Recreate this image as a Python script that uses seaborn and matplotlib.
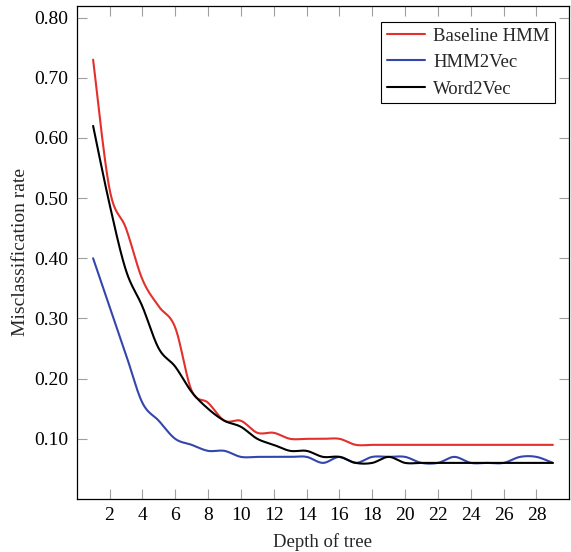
import numpy as np
import pandas as pd
import matplotlib
matplotlib.use("Agg")
import matplotlib.pyplot as plt
import seaborn as sns

depth = list(range(1, 30))
baseline_hmm = [0.73, 0.515, 0.45, 0.365, 0.32, 0.285, 0.18, 0.16, 0.13, 0.13,
                0.11, 0.11, 0.10, 0.10, 0.10, 0.10, 0.09, 0.09, 0.09, 0.09,
                0.09, 0.09, 0.09, 0.09, 0.09, 0.09, 0.09, 0.09, 0.09]
hmm2vec = [0.40, 0.32, 0.24, 0.16, 0.13, 0.10, 0.09, 0.08, 0.08, 0.07,
           0.07, 0.07, 0.07, 0.07, 0.06, 0.07, 0.06, 0.07, 0.07, 0.07,
           0.06, 0.06, 0.07, 0.06, 0.06, 0.06, 0.07, 0.07, 0.06]
word2vec = [0.62, 0.49, 0.38, 0.32, 0.25, 0.22, 0.178, 0.15, 0.13, 0.12,
            0.10, 0.09, 0.08, 0.08, 0.07, 0.07, 0.06, 0.06, 0.07, 0.06,
            0.06, 0.06, 0.06, 0.06, 0.06, 0.06, 0.06, 0.06, 0.06]
series_names = ["Baseline HMM", "HMM2Vec", "Word2Vec"]
series_colors = ["#e3302c", "#3346ad", "#000000"]
x_ticks = list(range(2, 30, 2))
y_ticks = [0.1, 0.2, 0.3, 0.4, 0.5, 0.6, 0.7, 0.8]


def smooth(xs, ys, n=20):
    """Catmull-Rom style smoothing through the given points (like pgfplots 'smooth')."""
    xs = np.asarray(xs, float)
    ys = np.asarray(ys, float)
    P = np.column_stack([xs, ys])
    Pext = np.vstack([P[0], P, P[-1]])
    out = []
    t = np.linspace(0, 1, n, endpoint=False)
    for i in range(len(P) - 1):
        p0, p1, p2, p3 = Pext[i], Pext[i + 1], Pext[i + 2], Pext[i + 3]
        m1 = (p2 - p0) / 2.0
        m2 = (p3 - p1) / 2.0
        c1 = p1 + m1 / 3.0
        c2 = p2 - m2 / 3.0
        tt = t[:, None]
        seg = ((1 - tt) ** 3) * p1 + 3 * ((1 - tt) ** 2) * tt * c1 + 3 * (1 - tt) * tt ** 2 * c2 + tt ** 3 * p2
        out.append(seg)
    out.append(P[-1][None, :])
    out = np.vstack(out)
    return out[:, 0], out[:, 1]


frames = []
for name, vals in zip(series_names, [baseline_hmm, hmm2vec, word2vec]):
    sx, sy = smooth(depth, vals)
    frames.append(pd.DataFrame({"Depth of tree": sx, "Misclassification rate": sy,
                                "series": name, "order": np.arange(len(sx))}))
df = pd.concat(frames, ignore_index=True)

sns.set_theme(style="ticks")
plt.rcParams["font.family"] = ["Liberation Serif", "DejaVu Serif"]
plt.rcParams["mathtext.fontset"] = "stix"

fig = plt.figure(figsize=(5.71, 5.52), dpi=100)
ax = fig.add_axes([0.1343, 0.096, 0.997 - 0.1343, 0.990 - 0.096])

sns.lineplot(data=df, x="Depth of tree", y="Misclassification rate", hue="series",
             hue_order=series_names, palette=series_colors, sort=False,
             estimator=None, units=None, linewidth=1.5, ax=ax)

ax.set_xlim(0, 30)
ax.set_ylim(0.0, 0.82)
ax.set_xticks(x_ticks)
ax.set_yticks(y_ticks)
ax.set_yticklabels([f"{v:.2f}" for v in y_ticks])
ax.tick_params(axis="both", which="both", direction="in", length=7, width=0.8,
               color="#a0a0a0", labelsize=14, labelcolor="black",
               top=True, right=True, pad=6)
for s in ax.spines.values():
    s.set_visible(True)
    s.set_color("black")
    s.set_linewidth(0.9)
ax.set_xlabel("Depth of tree", fontsize=13.5, labelpad=6)
ax.set_ylabel("Misclassification rate", fontsize=14, labelpad=4)

leg = ax.legend(loc="upper right", bbox_to_anchor=(0.971, 0.967), fontsize=13.5,
                frameon=True, fancybox=False, edgecolor="black", framealpha=1,
                handlelength=2.0, handletextpad=0.45, borderpad=0.3,
                labelspacing=0.5, borderaxespad=0)
leg.get_frame().set_linewidth(0.8)

fig.savefig("out.png", dpi=100)
